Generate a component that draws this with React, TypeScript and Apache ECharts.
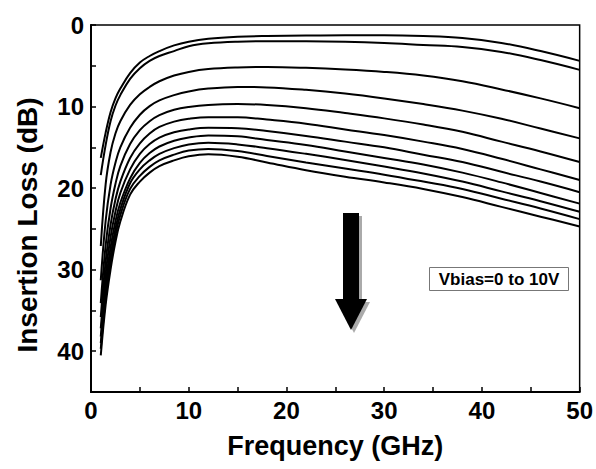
import React, { useEffect, useRef } from 'react';
import * as echarts from 'echarts';

// Frequency sample points (GHz)
const frequencyGHz = [1, 1.5, 2, 2.5, 3, 4, 5, 6, 7, 8.5, 10, 12, 15, 18, 22, 26, 30, 34, 38, 42, 46, 50];

// Insertion loss (dB) for each bias voltage curve, top (0 V) to bottom (10 V)
const loss1 = [16.3, 13.2, 10.7, 9.0, 7.8, 5.9, 4.6, 3.8, 3.2, 2.5, 2.05, 1.7, 1.45, 1.35, 1.3, 1.25, 1.25, 1.35, 1.6, 2.2, 3.2, 4.4];
const loss2 = [18.4, 14.7, 11.8, 9.9, 8.6, 6.6, 5.3, 4.4, 3.8, 3.2, 2.6, 2.25, 2.05, 2.0, 2.0, 2.05, 2.2, 2.45, 2.7, 3.3, 4.3, 5.5];
const loss3 = [27.1, 19.5, 15.6, 13.3, 11.8, 9.8, 8.5, 7.6, 6.9, 6.2, 5.75, 5.4, 5.2, 5.15, 5.25, 5.45, 5.75, 6.2, 6.9, 7.9, 9.0, 10.2];
const loss4 = [31.3, 24.0, 19.6, 16.9, 15.0, 12.6, 11.0, 9.95, 9.25, 8.6, 8.15, 7.8, 7.6, 7.65, 7.95, 8.4, 9.0, 9.7, 10.5, 11.5, 12.7, 13.9];
const loss5 = [34.1, 27.0, 22.5, 19.5, 17.3, 14.6, 12.9, 11.8, 11.05, 10.4, 10.05, 9.8, 9.7, 9.8, 10.2, 10.8, 11.45, 12.2, 13.1, 14.3, 15.5, 16.8];
const loss6 = [35.8, 29.0, 24.5, 21.4, 19.2, 16.3, 14.5, 13.3, 12.5, 11.85, 11.5, 11.3, 11.3, 11.6, 12.1, 12.8, 13.5, 14.3, 15.2, 16.4, 17.7, 19.0];
const loss7 = [37.2, 30.5, 26.0, 22.9, 20.6, 17.7, 15.8, 14.6, 13.8, 13.15, 12.8, 12.6, 12.65, 13.0, 13.6, 14.3, 15.0, 15.9, 16.8, 18.0, 19.2, 20.5];
const loss8 = [38.2, 31.7, 27.3, 24.1, 21.8, 18.8, 16.9, 15.7, 14.9, 14.2, 13.8, 13.55, 13.65, 14.1, 14.7, 15.5, 16.3, 17.1, 18.1, 19.3, 20.6, 21.9];
const loss9 = [39.0, 32.7, 28.3, 25.0, 22.6, 19.4, 17.7, 16.6, 15.8, 15.1, 14.65, 14.45, 14.65, 15.1, 15.8, 16.55, 17.35, 18.2, 19.2, 20.4, 21.6, 22.9];
const loss10 = [39.7, 33.5, 29.2, 25.8, 23.3, 20.1, 18.5, 17.4, 16.6, 15.9, 15.4, 15.2, 15.45, 16.05, 16.85, 17.6, 18.35, 19.2, 20.1, 21.3, 22.5, 23.8];
const loss11 = [40.5, 34.3, 30.0, 26.6, 24.1, 20.8, 19.2, 18.1, 17.3, 16.6, 16.1, 15.85, 16.15, 16.85, 17.8, 18.6, 19.3, 20.1, 21.1, 22.3, 23.5, 24.7];

const allCurves = [loss1, loss2, loss3, loss4, loss5, loss6, loss7, loss8, loss9, loss10, loss11];

const xTickLabels = [0, 10, 20, 30, 40, 50];
const yTickLabels = [0, 10, 20, 30, 40];

const annotationText = 'Vbias=0 to 10V';
const xAxisTitle = 'Frequency (GHz)';
const yAxisTitle = 'Insertion Loss (dB)';

const FONT = 'Liberation Sans, Arial, Helvetica, sans-serif';

export default function App() {
  const ref = useRef<HTMLDivElement>(null);

  useEffect(() => {
    if (!ref.current) return;
    const chart = echarts.init(ref.current, null, { renderer: 'svg' });

    const series = allCurves.map((vals, k) => ({
      type: 'line',
      name: 'curve' + (k + 1),
      data: frequencyGHz.map((f, i) => [f, vals[i]]),
      smooth: 0.4,
      showSymbol: false,
      symbol: 'none',
      lineStyle: { color: '#000', width: 2 },
      itemStyle: { color: '#000' },
    }));

    const labelStyle = {
      fontSize: 24,
      fontWeight: 'bold',
      color: '#000',
      fontFamily: FONT,
    };

    chart.setOption({
      animation: false,
      backgroundColor: '#fff',
      grid: {
        left: 91,
        right: 16,
        top: 25,
        bottom: 77,
        show: true,
        borderColor: '#000',
        borderWidth: 1.5,
        backgroundColor: 'transparent',
        containLabel: false,
      },
      xAxis: {
        type: 'value',
        min: 0,
        max: 50,
        interval: 5,
        axisLine: { show: true, onZero: false, lineStyle: { color: '#000', width: 2 } },
        axisTick: { show: true, inside: true, length: 5, lineStyle: { color: '#000', width: 1.5 } },
        splitLine: { show: false },
        axisLabel: {
          ...labelStyle,
          margin: 6,
          formatter: (v: number) => (xTickLabels.includes(v) ? String(v) : ''),
        },
        name: xAxisTitle,
        nameLocation: 'middle',
        nameGap: 40,
        nameTextStyle: { fontSize: 27, fontWeight: 'bold', color: '#000', fontFamily: FONT },
      },
      yAxis: {
        type: 'value',
        min: 0,
        max: 45,
        interval: 5,
        inverse: true,
        axisLine: { show: true, lineStyle: { color: '#000', width: 2 } },
        axisTick: { show: true, inside: true, length: 5, lineStyle: { color: '#000', width: 1.5 } },
        splitLine: { show: false },
        axisLabel: {
          ...labelStyle,
          margin: 7,
          formatter: (v: number) => (yTickLabels.includes(v) ? String(v) : ''),
        },
        name: yAxisTitle,
        nameLocation: 'middle',
        nameGap: 50,
        nameRotate: 90,
        nameTextStyle: {
          fontSize: 28,
          fontWeight: 'bold',
          color: '#000',
          fontFamily: FONT,
          padding: [0, 33, 0, 0],
        },
      },
      series,
      graphic: [
        {
          type: 'group',
          children: [
            { type: 'rect', shape: { x: 346, y: 216, width: 16, height: 88 }, style: { fill: '#aaa' } },
            { type: 'polygon', shape: { points: [[338, 302], [370, 302], [354, 333]] }, style: { fill: '#aaa' } },
            { type: 'rect', shape: { x: 343, y: 213, width: 16, height: 88 }, style: { fill: '#000' } },
            { type: 'polygon', shape: { points: [[335, 299], [367, 299], [351, 330]] }, style: { fill: '#000' } },
          ],
        },
        {
          type: 'rect',
          shape: { x: 429.5, y: 267.5, width: 139, height: 23 },
          style: { fill: '#fff', stroke: '#777', lineWidth: 1 },
        },
        {
          type: 'text',
          x: 499,
          y: 279.5,
          style: {
            text: annotationText,
            font: `bold 17px ${FONT}`,
            fill: '#000',
            align: 'center',
            verticalAlign: 'middle',
            textAlign: 'center',
            textVerticalAlign: 'middle',
          },
        },
      ],
    });

    return () => chart.dispose();
  }, []);

  return (
    <div
      ref={ref}
      style={{ position: 'fixed', left: 0, top: 0, width: 596, height: 469, background: '#fff' }}
    />
  );
}
